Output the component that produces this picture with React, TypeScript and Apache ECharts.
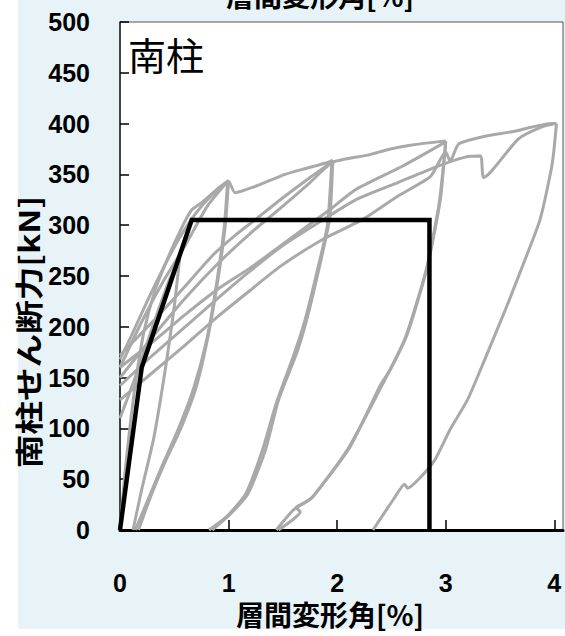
import React, { useEffect, useRef } from "react";
import * as echarts from "echarts";

// Story drift angle [%] vs. south column shear force [kN]
type Pt = [number, number];

// Hysteresis branches (drift %, shear kN)
const cycleHalfLoad: Pt[] = [[0, 110], [0.14, 150], [0.3, 200], [0.45, 245], [0.55, 268]];
const cycleHalfUnload: Pt[] = [[0.55, 268], [0.5, 220], [0.42, 160], [0.31, 90], [0.2, 40], [0.12, 0]];

const cycle1Load1: Pt[] = [[0, 0], [0.04, 50], [0.09, 100], [0.15, 150], [0.22, 195], [0.32, 235], [0.45, 270], [0.58, 300], [0.66, 315], [0.75, 322], [0.9, 336], [1.0, 344]];
const cycle1Unload1: Pt[] = [[1.0, 344], [0.97, 300], [0.9, 245], [0.81, 190], [0.7, 140], [0.56, 100], [0.42, 68], [0.29, 35], [0.17, 0]];
const cycle1Load2: Pt[] = [[0, 168], [0.1, 190], [0.25, 225], [0.4, 258], [0.55, 288], [0.7, 312], [0.85, 330], [0.99, 342]];
const cycle1Unload2: Pt[] = [[0.99, 342], [0.96, 298], [0.89, 243], [0.8, 188], [0.68, 140], [0.54, 100], [0.4, 66], [0.27, 33], [0.14, 0]];

const cycle2Load1: Pt[] = [[0, 160], [0.2, 205], [0.4, 245], [0.6, 280], [0.8, 318], [0.95, 338], [1.0, 343], [1.06, 332], [1.24, 338], [1.52, 350], [1.68, 355], [1.92, 362], [1.96, 364]];
const cycle2Unload1: Pt[] = [[1.96, 364], [1.93, 306], [1.83, 256], [1.72, 207], [1.63, 175], [1.46, 128], [1.34, 79], [1.18, 36], [1.01, 15], [0.85, 0]];
const cycle2Load2: Pt[] = [[0, 172], [0.3, 205], [0.6, 240], [0.85, 270], [1.06, 290], [1.24, 305], [1.5, 327], [1.75, 347], [1.95, 362]];
const cycle2Unload2: Pt[] = [[1.95, 362], [1.91, 300], [1.81, 252], [1.7, 205], [1.6, 172], [1.44, 125], [1.31, 78], [1.16, 36], [0.99, 14], [0.82, 0]];

const cycle3Load1: Pt[] = [[0, 150], [0.3, 190], [0.6, 228], [0.9, 262], [1.2, 292], [1.47, 316], [1.75, 342], [1.96, 362], [2.28, 369], [2.49, 375], [2.69, 379], [3.0, 383]];
const cycle3Unload1: Pt[] = [[3.0, 383], [2.95, 325], [2.83, 259], [2.65, 194], [2.49, 158], [2.4, 143], [2.12, 82], [1.78, 33], [1.7, 27], [1.62, 22], [1.66, 18], [1.46, 0]];
const cycle3Load2: Pt[] = [[0, 160], [0.3, 185], [0.6, 212], [0.9, 237], [1.2, 258], [1.47, 279], [1.94, 316], [2.17, 335], [2.6, 358], [3.0, 382]];
const cycle3Unload2: Pt[] = [[3.0, 382], [2.94, 322], [2.82, 256], [2.63, 190], [2.45, 150], [2.1, 80], [1.76, 31], [1.6, 20], [1.44, 0]];

const cycle4Load1: Pt[] = [[0, 128], [0.3, 155], [0.6, 182], [0.9, 210], [1.2, 236], [1.47, 259], [1.85, 285], [2.24, 306], [2.55, 328], [2.86, 348], [3.0, 372], [3.04, 363], [3.12, 380], [3.34, 387], [3.61, 392], [3.98, 400], [4.02, 400]];
const cycle4Unload1: Pt[] = [[4.02, 400], [3.98, 360], [3.87, 306], [3.73, 266], [3.55, 217], [3.36, 168], [3.2, 128], [3.04, 99], [2.9, 69], [2.76, 51], [2.65, 41], [2.62, 45], [2.53, 32], [2.33, 0]];
const cycle4Load2: Pt[] = [[0, 142], [0.3, 172], [0.6, 200], [0.9, 228], [1.2, 255], [1.5, 280], [1.85, 304], [2.17, 325], [2.56, 342], [2.9, 357], [3.18, 367], [3.32, 368], [3.35, 347], [3.67, 385], [3.89, 397], [4.01, 400]];

const hysteresis: Pt[][] = [
  cycleHalfLoad, cycleHalfUnload,
  cycle1Load1, cycle1Unload1, cycle1Load2, cycle1Unload2,
  cycle2Load1, cycle2Unload1, cycle2Load2, cycle2Unload2,
  cycle3Load1, cycle3Unload1, cycle3Load2, cycle3Unload2,
  cycle4Load1, cycle4Unload1, cycle4Load2,
];

// Tri-linear skeleton model
const skeleton: Pt[] = [[0, 0], [0.2, 160], [0.66, 305], [2.85, 305], [2.85, 0]];

const xTitle = "層間変形角[%]";
const yTitle = "南柱せん断力[kN]";
const panelLabel = "南柱";

const tickFont = "'Liberation Sans', Arial, sans-serif";
const cjkFont = "'Noto Sans CJK JP', sans-serif";

export default function App() {
  const ref = useRef<HTMLDivElement>(null);

  useEffect(() => {
    if (!ref.current) return;
    const chart = echarts.init(ref.current, undefined, { renderer: "svg" });

    const grayLines = hysteresis.map((d) => ({
      type: "line" as const,
      data: d,
      showSymbol: false,
      symbol: "none",
      smooth: 0.2,
      clip: true,
      z: 2,
      lineStyle: { color: "#a9a9a9", width: 3, join: "round" as const },
    }));

    chart.setOption({
      animation: false,
      backgroundColor: "#ffffff",
      graphic: [
        {
          type: "rect",
          z: -10,
          silent: true,
          shape: { x: 18, y: 0, width: 547, height: 629 },
          style: { fill: "#e7f3f6" },
        },
        {
          // repeated axis title, cropped at the top edge
          type: "text",
          x: 320,
          y: 9,
          z: 10,
          style: {
            text: xTitle,
            font: `bold 28px ${cjkFont}`,
            fill: "#000",
            align: "center",
            verticalAlign: "bottom",
          },
        },
        {
          type: "text",
          x: 128,
          y: 53,
          z: 10,
          style: {
            text: panelLabel,
            font: `38px ${cjkFont}`,
            fill: "#000",
            align: "left",
            verticalAlign: "middle",
          },
        },
        {
          type: "text",
          x: 330,
          y: 614,
          z: 10,
          style: {
            text: xTitle,
            font: `bold 28px ${cjkFont}`,
            fill: "#000",
            align: "center",
            verticalAlign: "middle",
          },
        },
        {
          type: "text",
          x: 28,
          y: 332,
          rotation: Math.PI / 2,
          scaleX: 1.2,
          z: 10,
          style: {
            text: yTitle,
            font: `bold 28px ${cjkFont}`,
            fill: "#000",
            align: "center",
            verticalAlign: "middle",
          },
        },
      ],
      grid: {
        left: 120,
        top: 22,
        right: 2,
        bottom: 106,
        show: true,
        backgroundColor: "#ffffff",
        borderColor: "#555",
        borderWidth: 1,
      },
      xAxis: {
        type: "value",
        min: 0,
        max: 4.08,
        interval: 1,
        axisLine: { show: true, lineStyle: { color: "#000", width: 3 } },
        axisTick: { show: true, inside: true, length: 10, lineStyle: { color: "#000", width: 1.5 } },
        splitLine: { show: false },
        axisLabel: {
          margin: 40,
          color: "#000",
          fontWeight: "bold",
          fontSize: 25,
          fontFamily: tickFont,
          showMaxLabel: false,
        },
      },
      yAxis: {
        type: "value",
        min: 0,
        max: 500,
        interval: 50,
        axisLine: { show: true, lineStyle: { color: "#222", width: 1.5 } },
        axisTick: { show: true, inside: true, length: 9, lineStyle: { color: "#000", width: 1.5 } },
        splitLine: { show: false },
        axisLabel: {
          margin: 30,
          color: "#000",
          fontWeight: "bold",
          fontSize: 25,
          fontFamily: tickFont,
        },
      },
      series: [
        ...grayLines,
        {
          type: "line",
          data: skeleton,
          showSymbol: false,
          symbol: "none",
          z: 5,
          lineStyle: { color: "#000", width: 4.5, join: "miter" },
        },
      ],
    });

    return () => chart.dispose();
  }, []);

  return (
    <div
      ref={ref}
      style={{ position: "absolute", left: 0, top: 0, width: 565, height: 636 }}
    />
  );
}
